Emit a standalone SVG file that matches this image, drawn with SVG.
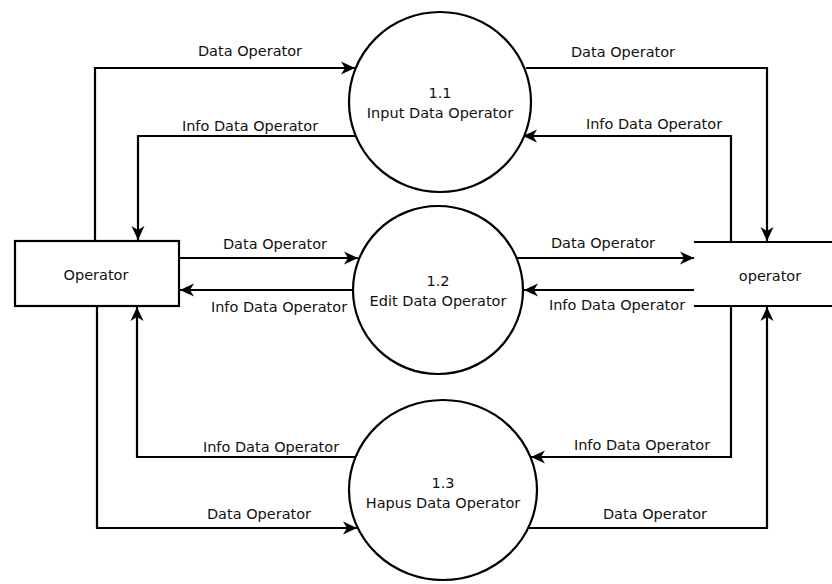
<svg xmlns="http://www.w3.org/2000/svg" width="832" height="584" viewBox="0 0 832 584">
  <defs>
    <marker id="arrow" markerUnits="userSpaceOnUse" markerWidth="16" markerHeight="14" viewBox="-15 -7 16 14" refX="0" refY="0" orient="auto">
      <path d="M0,0 L-14,-6.5 L-10,0 L-14,6.5 Z" fill="#000"/>
    </marker>
  </defs>
  <style>
    text { font-family: "DejaVu Sans", Verdana, sans-serif; font-size: 14.5px; fill: #111; text-anchor: middle; }
    .shape { fill: #fff; stroke: #000; stroke-width: 2.2; }
    .flow { fill: none; stroke: #000; stroke-width: 2.2; marker-end: url(#arrow); }
    .store { stroke: #000; stroke-width: 2.2; }
  </style>
  <rect width="832" height="584" fill="#fff"/>

  <!-- data flows -->
  <g id="connectors">
    <path class="flow" d="M95,241 V68 H355"/>
    <path class="flow" d="M357,136 H138 V240"/>
    <path class="flow" d="M526,68 H767 V241"/>
    <path class="flow" d="M731,242 V136 H523"/>
    <path class="flow" d="M179,258 H358"/>
    <path class="flow" d="M353,290 H180"/>
    <path class="flow" d="M517,258 H694"/>
    <path class="flow" d="M694,290 H524"/>
    <path class="flow" d="M356,457 H137 V307"/>
    <path class="flow" d="M97,306 V528 H357"/>
    <path class="flow" d="M731,306 V457 H531"/>
    <path class="flow" d="M528,528 H767 V307"/>
  </g>

  <!-- flow labels -->
  <g id="labels">
    <text x="250" y="56">Data Operator</text>
    <text x="250" y="131">Info Data Operator</text>
    <text x="623" y="57">Data Operator</text>
    <text x="654" y="129">Info Data Operator</text>
    <text x="275" y="249">Data Operator</text>
    <text x="279" y="312">Info Data Operator</text>
    <text x="603" y="248">Data Operator</text>
    <text x="617" y="310">Info Data Operator</text>
    <text x="271" y="452">Info Data Operator</text>
    <text x="259" y="519">Data Operator</text>
    <text x="642" y="450">Info Data Operator</text>
    <text x="655" y="519">Data Operator</text>
  </g>

  <!-- external entity -->
  <g id="entity-operator">
    <rect class="shape" x="15" y="241" width="164" height="65"/>
    <text x="96" y="280">Operator</text>
  </g>

  <!-- processes -->
  <g id="process-1-1">
    <ellipse class="shape" cx="440" cy="102" rx="91" ry="90"/>
    <text x="440" y="98">1.1</text>
    <text x="440" y="118">Input Data Operator</text>
  </g>
  <g id="process-1-2">
    <ellipse class="shape" cx="438" cy="290" rx="85" ry="84"/>
    <text x="438" y="286">1.2</text>
    <text x="438" y="306">Edit Data Operator</text>
  </g>
  <g id="process-1-3">
    <ellipse class="shape" cx="443" cy="490" rx="94" ry="90"/>
    <text x="443" y="488">1.3</text>
    <text x="443" y="508">Hapus Data Operator</text>
  </g>

  <!-- data store -->
  <g id="store-operator">
    <line class="store" x1="694" y1="242" x2="832" y2="242"/>
    <line class="store" x1="694" y1="306" x2="832" y2="306"/>
    <text x="770" y="281">operator</text>
  </g>
</svg>
